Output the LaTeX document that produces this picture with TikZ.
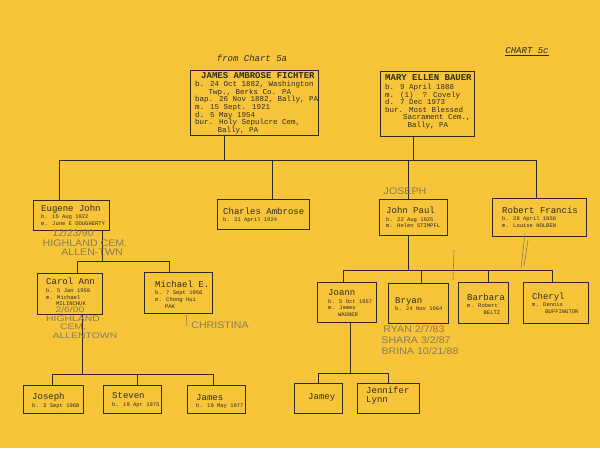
\documentclass[tikz,border=0pt]{standalone}
\usepackage{fontspec}
\newfontfamily\tw{Liberation Mono}
\newfontfamily\hw{Liberation Sans}
\definecolor{paper}{HTML}{F7C43A}
\definecolor{ink}{HTML}{2E2A1E}
\definecolor{pencil}{HTML}{857C58}
\newcommand\cname[1]{{\fontsize{9}{9}\selectfont #1}}
\newcommand\ttlname[1]{{\bfseries\fontsize{9}{9}\selectfont #1}}
\newcommand\sps[1]{\hspace*{#1\fontcharwd\font`\0}}
\begin{document}
\begin{tikzpicture}[x=1pt,y=-1pt,
  box/.style={draw=ink, line width=0.8pt, inner sep=0pt, anchor=north west},
  conn/.style={draw=ink, line width=0.8pt},
  txt/.style={anchor=west, inner sep=0pt, align=left, text=ink, font=\tw\fontsize{5.5}{6.6}\selectfont},
  bigtxt/.style={txt, font=\tw\fontsize{7.5}{7.6}\selectfont},
  hand/.style={text=pencil, font=\hw\fontsize{9.5}{9.5}\selectfont, inner sep=0pt, xscale=1.12},
  smallhand/.style={text=pencil, font=\hw\fontsize{8}{8}\selectfont, inner sep=0pt, xscale=1.3},
  pen/.style={draw=pencil, line width=0.6pt, line cap=round}]
\fill[paper] (0,0) rectangle (600,448);
\useasboundingbox (0,0) rectangle (600,448);

% headings
\node[text=ink, font=\tw\itshape\fontsize{9}{9}\selectfont, inner sep=0pt] (from) at (252,58) {from Chart 5a};
\node[text=ink, font=\tw\itshape\fontsize{9}{9}\selectfont, inner sep=0pt] (chart) at (527,52) {\underline{CHART 5c}};

% parents
\node[box, minimum width=128pt, minimum height=65pt] (jaf) at (190,70) {};
\node[bigtxt] (jaft) at (195,103) {\hspace*{6pt}\ttlname{JAMES AMBROSE FICHTER}\\[1pt]
b. 24 Oct 1882, Washington\\
\sps{3}Twp., Berks Co. PA\\
bap. 26 Nov 1882, Bally, PA\\
m. 15 Sept. 1921\\
d. 5 May 1954\\
bur. Holy Sepulcre Cem,\\
\sps{5}Bally, PA};

\node[box, minimum width=94pt, minimum height=65pt] (meb) at (380,71) {};
\node[bigtxt] (mebt) at (385,102) {\ttlname{MARY ELLEN BAUER}\\[1pt]
b. 9 April 1888\\
m. (1)\sps{2}? Covely\\
d. 7 Dec 1973\\
bur. Most Blessed\\
\sps{4}Sacrament Cem.,\\
\sps{5}Bally, PA};

% children
\node[box, minimum width=76pt, minimum height=30pt] (ej) at (33,200) {};
\node[txt] (ejt) at (41,215) {\cname{Eugene John}\\[1pt]b. 15 Aug 1922\\m. June E DOUGHERTY};
\node[box, minimum width=92pt, minimum height=30pt] (ca) at (217,199) {};
\node[txt] (cat) at (223,215.5) {\cname{Charles Ambrose}\\[1pt]b. 31 April 1924};
\node[box, minimum width=68pt, minimum height=36pt] (jp) at (379,199) {};
\node[txt] (jpt) at (386,217.5) {\cname{John Paul}\\[1pt]b. 22 Aug 1925\\m. Helen STIMPFL};
\node[box, minimum width=94pt, minimum height=38pt] (rf) at (492,198) {};
\node[txt] (rft) at (502,217) {\cname{Robert Francis}\\[1pt]b. 28 April 1950\\m. Louise HOLBEN};

% grandchildren (Eugene)
\node[box, minimum width=65pt, minimum height=41pt] (can) at (37,273) {};
\node[txt] (cant) at (46,292) {\cname{Carol Ann}\\[1pt]b. 5 Jan 1950\\m. Michael\\\sps{3}MILINCHUK};
\node[box, minimum width=68pt, minimum height=41pt] (me) at (144,272) {};
\node[txt] (met) at (155,294.5) {\cname{Michael E.}\\[1pt]b. 7 Sept 1956\\m. Chong Hui\\\sps{3}PAK};

% grandchildren (John Paul)
\node[box, minimum width=59pt, minimum height=40pt] (jo) at (317,282) {};
\node[txt] (jot) at (328,303) {\cname{Joann}\\[1pt]b. 5 Oct 1957\\m. James\\\sps{3}WAGNER};
\node[box, minimum width=60pt, minimum height=40pt] (br) at (388,283) {};
\node[txt] (brt) at (395,304) {\cname{Bryan}\\[1pt]b. 24 Nov 1964};
\node[box, minimum width=50pt, minimum height=41pt] (ba) at (458,282) {};
\node[txt] (bat) at (467,304) {\cname{Barbara}\\[1pt]m. Robert\\\sps{5}BELTZ};
\node[box, minimum width=65pt, minimum height=41pt] (ch) at (523,282) {};
\node[txt] (cht) at (532,303) {\cname{Cheryl}\\[1pt]m. Dennis\\\sps{4}BUFFINGTON};

% great-grandchildren
\node[box, minimum width=60pt, minimum height=28pt] (jos) at (23,385) {};
\node[txt] (jost) at (32,401) {\cname{Joseph}\\[1pt]b. 3 Sept 1968};
\node[box, minimum width=58pt, minimum height=28pt] (st) at (103,385) {};
\node[txt] (stt) at (112,400) {\cname{Steven}\\[1pt]b. 19 Apr 1975};
\node[box, minimum width=58pt, minimum height=28pt] (jam) at (187,385) {};
\node[txt] (jamt) at (196,401.5) {\cname{James}\\[1pt]b. 16 May 1977};
\node[box, minimum width=48pt, minimum height=30pt] (jy) at (294,383) {};
\node[txt] (jyt) at (308,397) {\cname{Jamey}};
\node[box, minimum width=62pt, minimum height=30pt] (jl) at (357,383) {};
\node[txt, font=\tw\fontsize{9}{8.5}\selectfont] (jlt) at (366,395.5) {Jennifer\\Lynn};

% junctions
\coordinate (j1) at (224,160); \coordinate (j2) at (413,160);
\coordinate (j3) at (59,160);  \coordinate (j4) at (272,160);
\coordinate (j5) at (408,160); \coordinate (j6) at (536,160);
\coordinate (k0) at (102,261); \coordinate (k1) at (77,261); \coordinate (k2) at (169,261);
\coordinate (l0) at (82,374); \coordinate (l1) at (52,374); \coordinate (l2) at (137,374); \coordinate (l3) at (213,374);
\coordinate (m0) at (408,270); \coordinate (m1) at (343,270); \coordinate (m2) at (421,270);
\coordinate (m3) at (488,270); \coordinate (m4) at (552,270);
\coordinate (n0) at (350,373); \coordinate (n1) at (318,373); \coordinate (n2) at (388,373);

% connectors
\draw[conn] (j3) -- (j6);
\draw[conn] (jaf.south -| j1) -- (j1);
\draw[conn] (meb.south -| j2) -- (j2);
\draw[conn] (j3) -- (j3 |- ej.north);
\draw[conn] (j4) -- (j4 |- ca.north);
\draw[conn] (j5) -- (j5 |- jp.north);
\draw[conn] (j6) -- (j6 |- rf.north);

\draw[conn] (ej.south -| k0) -- (k0);
\draw[conn] (k1) -- (k2);
\draw[conn] (k1) -- (k1 |- can.north);
\draw[conn] (k2) -- (k2 |- me.north);

\draw[conn] (can.south -| l0) -- (l0);
\draw[conn] (l1) -- (l3);
\draw[conn] (l1) -- (l1 |- jos.north);
\draw[conn] (l2) -- (l2 |- st.north);
\draw[conn] (l3) -- (l3 |- jam.north);

\draw[conn] (jp.south -| m0) -- (m0);
\draw[conn] (m1) -- (m4);
\draw[conn] (m1) -- (m1 |- jo.north);
\draw[conn] (m2) -- (m2 |- br.north);
\draw[conn] (m3) -- (m3 |- ba.north);
\draw[conn] (m4) -- (m4 |- ch.north);

\draw[conn] (jo.south -| n0) -- (n0);
\draw[conn] (n1) -- (n2);
\draw[conn] (n1) -- (n1 |- jy.north);
\draw[conn] (n2) -- (n2 |- jl.north);

% pencil notes
\node[hand] (hjoseph) at (405,191) {JOSEPH};
\node[hand] (hd1) at (73,233) {12/23/90};
\node[hand] (hcem1) at (85,243) {HIGHLAND CEM.};
\node[hand] (hall1) at (92,252) {ALLEN-TWN};
\node[smallhand] (hd2) at (70,310) {2/6/00};
\node[smallhand] (hcem2) at (73,319) {HIGHLAND};
\node[smallhand] (hcem3) at (73,327.5) {CEM,};
\node[smallhand] (hall2) at (85,336) {ALLENTOWN};
\node[hand] (hchr) at (220,325) {CHRISTINA};
\node[hand] (hryan) at (414,329) {RYAN 2/7/83};
\node[hand] (hshara) at (416,340) {SHARA 3/2/87};
\node[hand] (hbrina) at (420,351) {BRINA 10/21/88};

% pencil strokes
\draw[pen] (186,313) -- (187,326);
\draw[pen] (454,250) -- (453,280);
\draw[pen] (525,234) -- (521,268);
\draw[pen] (528,240) -- (524,266);
\end{tikzpicture}
\end{document}
